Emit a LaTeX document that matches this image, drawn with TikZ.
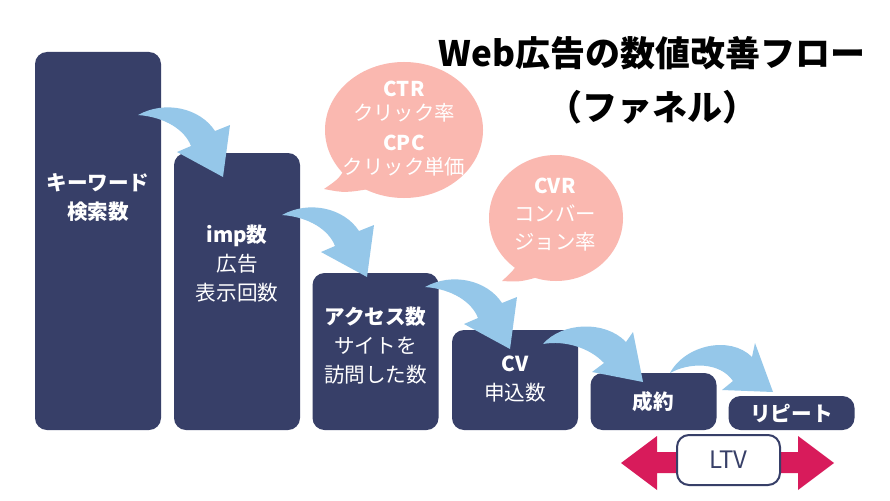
\documentclass[tikz,border=0pt]{standalone}
\usepackage{fontspec}
\setmainfont{Noto Sans CJK JP}
\definecolor{navy}{HTML}{373F68}
\definecolor{sky}{HTML}{95C7E9}
\definecolor{pinkb}{HTML}{FAB8B0}
\definecolor{mag}{HTML}{D81B5B}
\begin{document}
\begin{tikzpicture}[x=1pt,y=-1pt,
  stage/.style={fill=navy, rounded corners=12pt, minimum width=126pt, inner sep=0pt},
  lbl/.style={text=white, align=center, inner sep=0pt, font=\fontsize{20.6}{29}\selectfont},
  flow/.style={fill=sky},
  bub/.style={fill=pinkb},
  btxt/.style={text=white, align=center, inner sep=0pt, font=\fontsize{20.4}{24}\selectfont},
  ltvbox/.style={draw=navy, line width=2pt, fill=white, rounded corners=12pt, minimum width=103pt, minimum height=50pt, text=navy, font=\fontsize{24}{28}\selectfont}]
\useasboundingbox[fill=white] (0,0) rectangle (890,500);

% title
\node[align=center, inner sep=0pt, font=\fontsize{35}{54}\selectfont\bfseries] (title) at (652,80) {Web広告の数値改善フロー\\（ファネル）};

% stages
\node[stage, minimum height=378pt] (s1) at (98,241) {};
\node[stage, minimum height=277pt] (s2) at (237,291.5) {};
\node[stage, minimum height=157pt] (s3) at (375.5,351.5) {};
\node[stage, minimum height=100pt] (s4) at (515,380) {};
\node[stage, minimum height=57pt] (s5) at (653.5,401.5) {};
\node[stage, minimum height=34pt] (s6) at (791.5,413) {};

\node[lbl] (t1) at (98,198) {\textbf{キーワード}\\\textbf{検索数}};
\node[lbl] (t2) at (237,264) {\textbf{imp数}\\広告\\表示回数};
\node[lbl] (t3) at (375.5,346) {\textbf{アクセス数}\\サイトを\\訪問した数};
\node[lbl] (t4) at (515,379) {\textbf{CV}\\申込数};
\node[lbl] (t5) at (653.5,402) {\textbf{成約}};
\node[lbl] (t6) at (791.5,414) {\textbf{リピート}};

% curved arrows
\foreach \dx/\dy in {0/0,144/100,287/172}{
  \begin{scope}[shift={(\dx,\dy)}]
    \fill[flow] (138,115) .. controls (165,100) and (200,108) .. (215,131) -- (230,125) -- (223,177) -- (177,152) -- (191,146) .. controls (185,130) and (165,117) .. (138,115) -- cycle;
  \end{scope}
}
\fill[flow] (543,344) .. controls (562,322) and (605,320) .. (626,342) -- (633,332) -- (643,382) -- (592,372) -- (604,363) .. controls (590,348) and (565,340) .. (543,344) -- cycle;
\fill[flow] (670,373) .. controls (685,345) and (730,335) .. (752,357) -- (755,343) -- (773,392) -- (722,390) -- (733,381) .. controls (720,362) and (690,362) .. (670,373) -- cycle;

% bubbles
\fill[bub] (404,130) ellipse [x radius=79pt, y radius=68pt];
\fill[bub] (348,162) .. controls (340,178) .. (324,189) .. controls (345,193) .. (375,188) -- cycle;
\node[btxt] (b1) at (404,129) {\textbf{CTR}\\クリック率\\[6pt]\textbf{CPC}\\クリック単価};

\fill[bub] (556,218) ellipse [x radius=67pt, y radius=63pt];
\fill[bub] (522,252) .. controls (516,268) .. (502,281) .. controls (520,282) .. (542,276) -- cycle;
\node[btxt, font=\fontsize{20.4}{28}\selectfont] (b2) at (555,215) {\textbf{CVR}\\コンバー\\ジョン率};

% LTV
\fill[mag] (621,463) -- (657,436) -- (657,452) -- (798,452) -- (798,436) -- (834,463) -- (798,490) -- (798,473) -- (657,473) -- (657,490) -- cycle;
\node[ltvbox] (ltv) at (728.5,460) {LTV};
\end{tikzpicture}
\end{document}
